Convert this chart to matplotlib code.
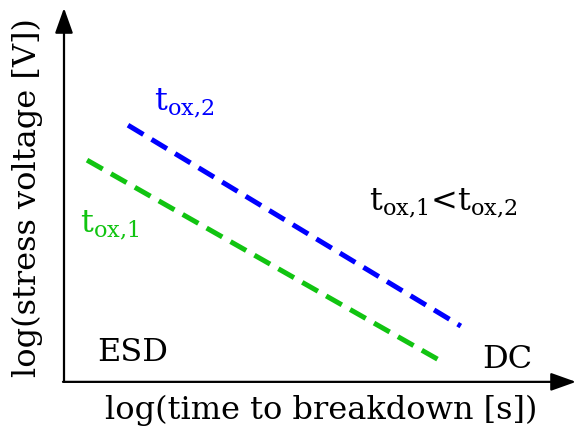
import matplotlib
matplotlib.use("Agg")
import matplotlib.pyplot as plt
import numpy as np

# schematic values, arbitrary log units (x: log time, y: log voltage)
t_ox2_x = [1.25, 7.75]
t_ox2_y = [6.85, 1.45]
t_ox1_x = [0.45, 7.36]
t_ox1_y = [5.91, 0.51]

BLUE = "#0000ff"
GREEN = "#11c411"
FONT = "DejaVu Serif"

plt.rcParams["font.family"] = FONT
plt.rcParams["mathtext.fontset"] = "dejavuserif"

fig = plt.figure(figsize=(5.76, 4.32), dpi=100)
ax = fig.add_axes([64 / 576, 52 / 432, 512 / 576, 372 / 432])
ax.set_xlim(0, 10)
ax.set_ylim(0, 10)
ax.axis("off")

ax.plot(t_ox2_x, t_ox2_y, color=BLUE, lw=3.6, dashes=(3.6, 1.9), solid_capstyle="butt")
ax.plot(t_ox1_x, t_ox1_y, color=GREEN, lw=3.6, dashes=(3.6, 1.9), solid_capstyle="butt")

# axis arrows
arrow = dict(arrowstyle="-|>,head_length=0.7,head_width=0.25", color="black", lw=1.6,
             mutation_scale=22, shrinkA=0, shrinkB=0)
ax.annotate("", xy=(0, 1.0), xytext=(0, -0.005), xycoords="axes fraction", arrowprops=arrow)
ax.annotate("", xy=(1.0, -0.005), xytext=(-0.002, -0.005), xycoords="axes fraction", arrowprops=arrow)

fs = 23
fig.text(321 / 576, 1 - 410 / 432, "log(time to breakdown [s])", ha="center", va="center", fontsize=fs)
fig.text(27 / 576, 1 - 198 / 432, "log(stress voltage [V])", ha="center", va="center",
         rotation=90, fontsize=fs)

ax.text((97 - 64) / 512, 0.075, "ESD", transform=ax.transAxes, ha="left", va="center", fontsize=fs)
ax.text((482 - 64) / 512, 0.055, "DC", transform=ax.transAxes, ha="left", va="center", fontsize=fs)

ax.text((154 - 64) / 512, 0.745, r"t$_{\mathregular{ox{,}2}}$", transform=ax.transAxes,
        ha="left", va="center", fontsize=fs, color=BLUE)
ax.text((80 - 64) / 512, 0.415, r"t$_{\mathregular{ox{,}1}}$", transform=ax.transAxes,
        ha="left", va="center", fontsize=fs, color=GREEN)
ax.text((369 - 64) / 512, 0.475, r"t$_{\mathregular{ox{,}1}}$<t$_{\mathregular{ox{,}2}}$",
        transform=ax.transAxes, ha="left", va="center", fontsize=fs, color="black")

fig.savefig("out.png", dpi=100)
